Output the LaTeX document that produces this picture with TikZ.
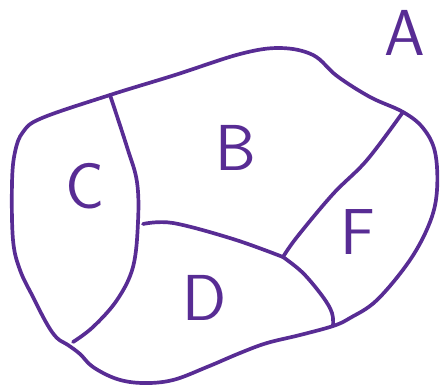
\documentclass[tikz,border=0pt]{standalone}
\usepackage{tikz}
\usetikzlibrary{positioning,calc}
\definecolor{InkPurple}{RGB}{88,44,148}
\tikzset{
  border/.style={draw=InkPurple,line width=2.1pt,line cap=round,line join=round},
  region/.style={font=\sffamily\fontsize{37}{37}\selectfont,text=InkPurple,
    inner sep=0pt}
}

\begin{document}
\begin{tikzpicture}[x=0.02cm,y=-0.02cm]
\useasboundingbox (0,0) rectangle (442,390);

% junctions on the rim
\coordinate (topCB) at (110,95);
\coordinate (topBF) at (403,112);
\coordinate (botDF) at (333,326);
\coordinate (botCD) at (73,342);
\coordinate (midBD) at (143,224);
\coordinate (meet) at (283,257);

% outer rim
\draw[border] plot[smooth cycle,tension=0.6] coordinates {
  (110,95) (175,75) (240,54) (280,48) (313,55) (337,76) (370,97) (403,112)
  (423,128) (435,152) (437,190) (430,222) (410,260) (377,300) (350,318)
  (333,326) (300,335) (267,343) (240,353) (207,367) (173,380) (143,383)
  (117,379) (93,367) (80,354) (68,345) (57,338) (47,324) (33,297) (20,270)
  (13,240) (12,183) (15,152) (23,132) (42,118)};

% inner borders
\draw[border] plot[smooth,tension=0.6] coordinates {
  (topCB) (127,147) (137,182) (138,222) (133,267) (117,300) (93,327) (botCD)};
\draw[border] plot[smooth,tension=0.6] coordinates {
  (midBD) (173,223) (233,239) (meet)};
\draw[border] plot[smooth,tension=0.6] coordinates {
  (meet) (303,273) (323,297) (332,313) (botDF)};
\draw[border] plot[smooth,tension=0.6] coordinates {
  (topBF) (367,160) (333,194) (297,237) (meet)};

% labels
\node[region] (lblA) at (405,33) {A};
\node[region] (lblB) at (236,148) {B};
\node[region] (lblC) at (85,186) {C};
\node[region] (lblD) at (205,298) {D};
\node[region] (lblF) at (358,232) {F};

\end{tikzpicture}
\end{document}
